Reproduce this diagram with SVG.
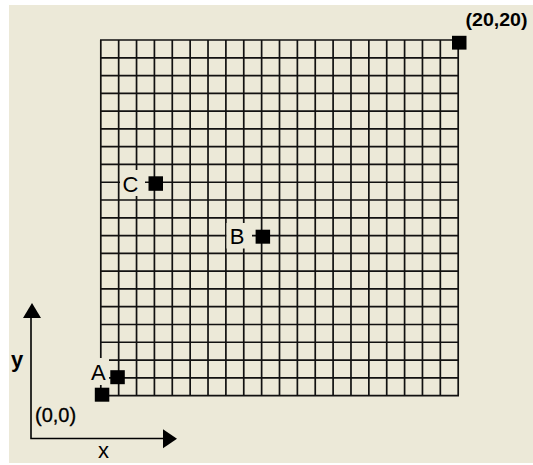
<svg xmlns="http://www.w3.org/2000/svg" width="533" height="465" viewBox="0 0 533 465">
<style>
.lbl{font-family:"Liberation Sans",Arial,sans-serif;fill:#000}
.pt{fill:#000}
.bg{fill:#ece9d8}
.grid{stroke:#111;stroke-width:1.7;fill:none}
.axis{stroke:#000;stroke-width:1.6;fill:none}
</style>
<rect x="0" y="0" width="533" height="465" fill="#ffffff"/>
<rect x="9" y="5" width="524" height="458" class="bg"/>
<g id="grid">
<path class="grid" d="M100.8 40V395.6M118.67 40V395.6M136.54 40V395.6M154.41 40V395.6M172.28 40V395.6M190.15 40V395.6M208.02 40V395.6M225.89 40V395.6M243.76 40V395.6M261.63 40V395.6M279.5 40V395.6M297.37 40V395.6M315.24 40V395.6M333.11 40V395.6M350.98 40V395.6M368.85 40V395.6M386.72 40V395.6M404.59 40V395.6M422.46 40V395.6M440.33 40V395.6M458.2 40V395.6
M100 40H459M100 57.78H459M100 75.56H459M100 93.34H459M100 111.12H459M100 128.9H459M100 146.68H459M100 164.46H459M100 182.24H459M100 200.02H459M100 217.8H459M100 235.58H459M100 253.36H459M100 271.14H459M100 288.92H459M100 306.7H459M100 324.48H459M100 342.26H459M100 360.04H459M100 377.82H459M100 395.6H459"/>
</g>
<g id="connectors">
<path class="axis" d="M31 316V438.5H164"/>
<polygon points="32,303 23,318 41,318" fill="#000"/>
<polygon points="177,438.7 163,429.3 163,448.3" fill="#000"/>
</g>
<g id="axis-y"><text class="lbl" x="11" y="367" font-size="22" font-weight="bold">y</text></g>
<g id="axis-x"><text class="lbl" x="98" y="458" font-size="22">x</text></g>
<g id="point-origin">
<rect class="pt" x="94.8" y="387.7" width="14.5" height="14"/>
<text class="lbl" x="35" y="421.5" font-size="20" stroke="#000" stroke-width="0.3">(0,0)</text>
</g>
<g id="point-A">
<rect class="bg" x="85" y="358" width="24" height="27"/>
<text class="lbl" x="91" y="380" font-size="22">A</text>
<rect class="pt" x="110.3" y="370.2" width="14.5" height="14"/>
</g>
<g id="point-B">
<rect class="bg" x="226.5" y="223" width="25.5" height="25.5"/>
<text class="lbl" x="229.8" y="243.5" font-size="22">B</text>
<rect class="pt" x="255.6" y="229.7" width="14.5" height="14"/>
</g>
<g id="point-C">
<rect class="bg" x="120" y="170" width="25" height="26"/>
<text class="lbl" x="122.5" y="191.5" font-size="22">C</text>
<rect class="pt" x="148.5" y="176.3" width="14.5" height="14.5"/>
</g>
<g id="point-20-20">
<rect class="pt" x="452" y="35.8" width="14.5" height="13.8"/>
<text class="lbl" x="465.5" y="25.5" font-size="19" font-weight="bold" textLength="62" lengthAdjust="spacingAndGlyphs">(20,20)</text>
</g>
</svg>
